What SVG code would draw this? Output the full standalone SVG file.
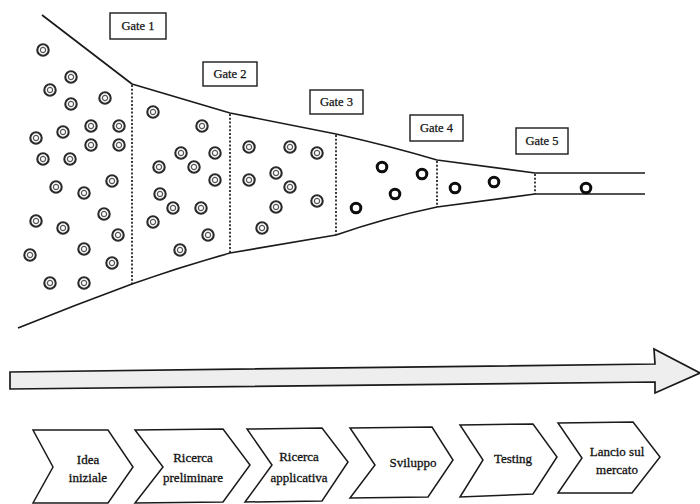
<svg xmlns="http://www.w3.org/2000/svg" width="700" height="504" viewBox="0 0 700 504">
<style>
  .ln{fill:none;stroke:#1a1a1a;stroke-width:1.7;stroke-linejoin:round}
  .dash{fill:none;stroke:#1a1a1a;stroke-width:1.7;stroke-dasharray:2 1.8}
  .gbox{fill:#fff;stroke:#1a1a1a;stroke-width:1.4}
  .gtx{font-family:"Liberation Serif","Times New Roman",serif;font-size:12.5px;fill:#111;stroke:#111;stroke-width:0.25;text-anchor:middle}
  .dc{fill:none;stroke:#2a2a2a;stroke-width:2.1}
  .ic{fill:none;stroke:#555;stroke-width:1.2}
  .tc{fill:none;stroke:#0d0d0d;stroke-width:3}
  .chev{fill:#fff;stroke:#1a1a1a;stroke-width:1.5;stroke-linejoin:miter}
  .ctx{font-family:"Liberation Serif","Times New Roman",serif;font-size:13px;fill:#111;stroke:#111;stroke-width:0.3;text-anchor:middle}
</style>
<defs>
  <g id="dbl"><circle r="5.7" class="dc"/><circle r="2.6" class="ic"/></g>
  <g id="thk"><circle r="4.8" class="tc"/></g>
</defs>
<rect width="700" height="504" fill="#fff"/>

<g id="funnel">
  <path class="ln" d="M42,15 Q90,52 132,84 L230,113 L336,134 Q390,146 437,160 L535,173 L645,173"/>
  <path class="ln" d="M18,328 Q75,305 132,284 Q180,267 230,253 L336,235 Q385,218 437,207 L535,194 L645,194"/>
</g>

<g id="connectors">
  <line class="dash" x1="132" y1="85" x2="132" y2="284"/>
  <line class="dash" x1="230" y1="114" x2="230" y2="253"/>
  <line class="dash" x1="336" y1="135" x2="336" y2="235"/>
  <line class="dash" x1="437" y1="161" x2="437" y2="207"/>
  <line class="dash" x1="535" y1="174" x2="535" y2="194"/>
</g>

<g id="gate1"><rect class="gbox" x="110" y="13" width="56" height="26"/><text class="gtx" x="138" y="30">Gate 1</text></g>
<g id="gate2"><rect class="gbox" x="203" y="62" width="54" height="24"/><text class="gtx" x="230" y="78">Gate 2</text></g>
<g id="gate3"><rect class="gbox" x="310" y="90" width="53" height="24"/><text class="gtx" x="336.5" y="106">Gate 3</text></g>
<g id="gate4"><rect class="gbox" x="410" y="115" width="53" height="26"/><text class="gtx" x="436.5" y="132">Gate 4</text></g>
<g id="gate5"><rect class="gbox" x="516" y="128" width="52" height="26"/><text class="gtx" x="542" y="145">Gate 5</text></g>

<g id="ideas">
  <use href="#dbl" x="43" y="50"/><use href="#dbl" x="71" y="77"/><use href="#dbl" x="50" y="90"/>
  <use href="#dbl" x="71" y="104"/><use href="#dbl" x="105" y="98"/><use href="#dbl" x="36" y="138"/>
  <use href="#dbl" x="63" y="132"/><use href="#dbl" x="91" y="126"/><use href="#dbl" x="119" y="126"/>
  <use href="#dbl" x="91" y="145"/><use href="#dbl" x="119" y="145"/><use href="#dbl" x="43" y="159"/>
  <use href="#dbl" x="70" y="159"/><use href="#dbl" x="56" y="187"/><use href="#dbl" x="84" y="193"/>
  <use href="#dbl" x="112" y="181"/><use href="#dbl" x="36" y="221"/><use href="#dbl" x="63" y="228"/>
  <use href="#dbl" x="104" y="214"/><use href="#dbl" x="118" y="235"/><use href="#dbl" x="84" y="249"/>
  <use href="#dbl" x="30" y="255"/><use href="#dbl" x="112" y="263"/><use href="#dbl" x="50" y="283"/>
  <use href="#dbl" x="84" y="283"/>

  <use href="#dbl" x="153" y="112"/><use href="#dbl" x="202" y="126"/><use href="#dbl" x="181" y="153"/>
  <use href="#dbl" x="215" y="153"/><use href="#dbl" x="159" y="167"/><use href="#dbl" x="194" y="167"/>
  <use href="#dbl" x="215" y="180"/><use href="#dbl" x="160" y="194"/><use href="#dbl" x="173" y="208"/>
  <use href="#dbl" x="201" y="208"/><use href="#dbl" x="153" y="222"/><use href="#dbl" x="208" y="235"/>
  <use href="#dbl" x="180" y="250"/>

  <use href="#dbl" x="249" y="147"/><use href="#dbl" x="290" y="147"/><use href="#dbl" x="317" y="153"/>
  <use href="#dbl" x="276" y="173"/><use href="#dbl" x="249" y="180"/><use href="#dbl" x="290" y="187"/>
  <use href="#dbl" x="276" y="207"/><use href="#dbl" x="317" y="201"/><use href="#dbl" x="262" y="228"/>

  <use href="#thk" x="382" y="167"/><use href="#thk" x="422" y="174"/><use href="#thk" x="395" y="194"/>
  <use href="#thk" x="356" y="208"/>
  <use href="#thk" x="455" y="188"/><use href="#thk" x="494" y="182"/>
  <use href="#thk" x="586" y="188"/>
</g>

<g id="time-arrow">
  <path d="M10,372 L655,364 L654,349 L700,373 L655,393 L655,382 L10,389 Z" fill="#eeeeee" stroke="#1a1a1a" stroke-width="1.7" stroke-linejoin="miter"/>
</g>

<g id="step1"><path class="chev" d="M33,430 L108,430 L133,467 L108,503 L33,503 L53,467 Z"/><text class="ctx" x="88" y="464">Idea</text><text class="ctx" x="88" y="482">iniziale</text></g>
<g id="step2"><path class="chev" d="M135,430 L223,429 L250,465 L223,502 L135,503 L163,467 Z"/><text class="ctx" x="193" y="462">Ricerca</text><text class="ctx" x="193" y="482">preliminare</text></g>
<g id="step3"><path class="chev" d="M247,429 L322,428 L348,462 L322,501 L245,502 L272,465 Z"/><text class="ctx" x="299" y="461">Ricerca</text><text class="ctx" x="299" y="482">applicativa</text></g>
<g id="step4"><path class="chev" d="M350,428 L432,427 L453,460 L428,497 L350,498 L375,465 Z"/><text class="ctx" x="413" y="467">Sviluppo</text></g>
<g id="step5"><path class="chev" d="M460,425 L533,424 L557,457 L533,494 L460,497 L483,460 Z"/><text class="ctx" x="513" y="463">Testing</text></g>
<g id="step6"><path class="chev" d="M558,423 L633,422 L660,457 L632,493 L558,493 L582,458 Z"/><text class="ctx" x="617" y="456">Lancio sul</text><text class="ctx" x="617" y="474">mercato</text></g>
</svg>
